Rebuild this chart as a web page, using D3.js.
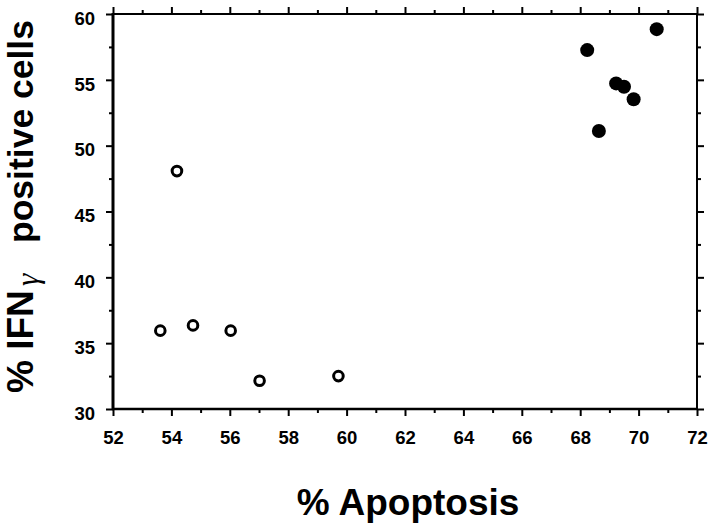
<!DOCTYPE html>
<html><head><meta charset="utf-8">
<script src="https://cdn.jsdelivr.net/npm/d3@7"></script>
<style>body{margin:0;background:#fff}svg{display:block}</style>
</head><body>
<svg id="c" width="714" height="529"></svg>
<script>
const openX = [53.62, 54.19, 54.74, 56.03, 57.02, 59.72];
const openY = [35.95, 48.07, 36.35, 35.95, 32.15, 32.5];
const filledX = [70.62, 68.24, 69.23, 69.5, 69.83, 68.64];
const filledY = [58.85, 57.26, 54.73, 54.47, 53.52, 51.11];
const xTicks = [52,54,56,58,60,62,64,66,68,70,72];
const yTicks = [30,35,40,45,50,55,60];
const xTitle = "% Apoptosis";
const yTitleA = "% IFN", yTitleG = "γ", yTitleB = "positive cells";

const svg = d3.select("#c");
const L=113, R=697, T=14, B=409;
const x = d3.scaleLinear().domain([52,72]).range([L,R]);
const y = d3.scaleLinear().domain([30,60]).range([B,T]);
const font = "'Liberation Sans', Arial, sans-serif";

function styleAxis(g, w){
  g.select(".domain").remove();
  g.selectAll("line").attr("stroke","#000").attr("stroke-width",w);
  g.selectAll("text").attr("font-family",font).attr("font-weight","bold").attr("font-size",18.5).attr("fill","#000");
}
const xMinor = d3.range(53,72,2);
const yMinor = d3.range(32.5,60,5);

// bottom
svg.append("g").attr("transform",`translate(0,${B})`)
  .call(d3.axisBottom(x).tickValues(xTicks).tickFormat(d3.format("d")).tickSize(7).tickPadding(15))
  .call(g=>styleAxis(g,2));
svg.append("g").attr("transform",`translate(0,${B})`).call(d3.axisBottom(x).tickValues(xMinor).tickFormat("").tickSize(4)).call(g=>styleAxis(g,2));
// top
svg.append("g").attr("transform",`translate(0,${T})`).call(d3.axisTop(x).tickValues(xTicks).tickFormat("").tickSize(7)).call(g=>styleAxis(g,2));
svg.append("g").attr("transform",`translate(0,${T})`).call(d3.axisTop(x).tickValues(xMinor).tickFormat("").tickSize(4)).call(g=>styleAxis(g,2));
// left
svg.append("g").attr("transform",`translate(${L},0)`)
  .call(d3.axisLeft(y).tickValues(yTicks).tickFormat(d3.format("d")).tickSize(7).tickPadding(11))
  .call(g=>styleAxis(g,2))
  .call(g=>g.selectAll("text").attr("dy","0.55em"));
svg.append("g").attr("transform",`translate(${L},0)`).call(d3.axisLeft(y).tickValues(yMinor).tickFormat("").tickSize(4)).call(g=>styleAxis(g,2));
// right
svg.append("g").attr("transform",`translate(${R},0)`).call(d3.axisRight(y).tickValues(yTicks).tickFormat("").tickSize(7)).call(g=>styleAxis(g,2));
svg.append("g").attr("transform",`translate(${R},0)`).call(d3.axisRight(y).tickValues(yMinor).tickFormat("").tickSize(4)).call(g=>styleAxis(g,2));

// frame
svg.append("line").attr("x1",L).attr("x2",L).attr("y1",T-1).attr("y2",B+1).attr("stroke","#000").attr("stroke-width",3);
svg.append("line").attr("x1",L-1).attr("x2",R+1).attr("y1",B).attr("y2",B).attr("stroke","#000").attr("stroke-width",2.5);
svg.append("line").attr("x1",L-1).attr("x2",R+1).attr("y1",T).attr("y2",T).attr("stroke","#000").attr("stroke-width",2);
svg.append("line").attr("x1",R).attr("x2",R).attr("y1",T-1).attr("y2",B+1).attr("stroke","#000").attr("stroke-width",2);

// points
svg.append("g").selectAll("circle").data(openX.map((d,i)=>[d,openY[i]])).join("circle")
  .attr("cx",d=>x(d[0])).attr("cy",d=>y(d[1])).attr("r",4.8)
  .attr("fill","#fff").attr("stroke","#000").attr("stroke-width",3);
svg.append("g").selectAll("circle").data(filledX.map((d,i)=>[d,filledY[i]])).join("circle")
  .attr("cx",d=>x(d[0])).attr("cy",d=>y(d[1])).attr("r",7).attr("fill","#000");

// titles
svg.append("text").attr("x",408).attr("y",515).attr("text-anchor","middle")
  .attr("font-family",font).attr("font-weight","bold").attr("font-size",37).text(xTitle);
svg.append("text").attr("transform","translate(33,393) rotate(-90)").attr("text-anchor","start")
  .attr("font-family",font).attr("font-weight","bold").attr("font-size",37).text(yTitleA);
svg.append("text").attr("transform","translate(38,286) rotate(-90)").attr("text-anchor","start")
  .attr("font-family","'Liberation Serif', serif").attr("font-style","italic").attr("font-size",31).text(yTitleG);
svg.append("text").attr("transform","translate(33,243) rotate(-90)").attr("text-anchor","start")
  .attr("font-family",font).attr("font-weight","bold").attr("font-size",35.5).text(yTitleB);
</script>
</body></html>
